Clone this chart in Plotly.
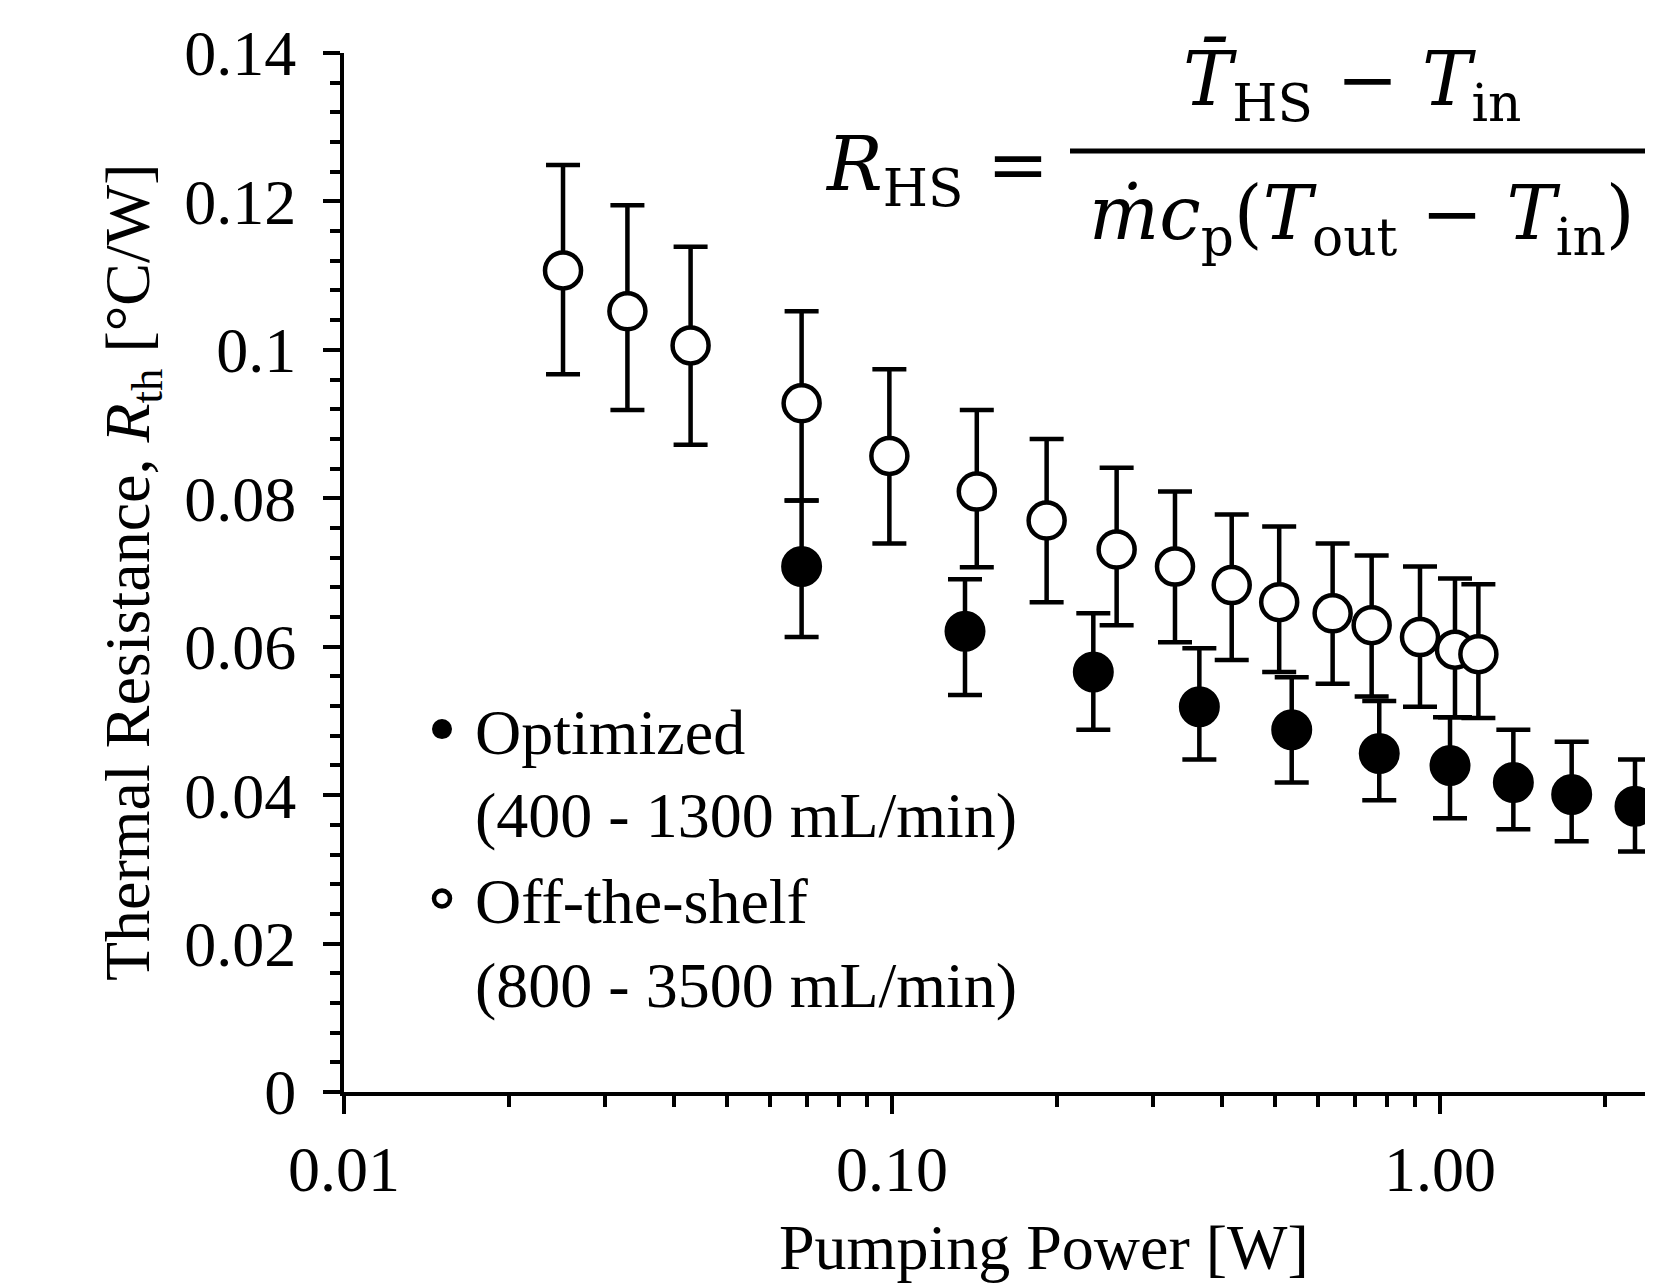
import plotly.graph_objects as go

# ---------------- data ----------------
opt_power = [0.0684, 0.1359, 0.2330, 0.3638, 0.5363, 0.7747, 1.043, 1.361, 1.739, 2.269]
opt_rth = [0.0708, 0.0621, 0.0566, 0.0519, 0.0488, 0.0456, 0.0440, 0.0417, 0.0401, 0.0385]
opt_upper = [0.0797, 0.0691, 0.0645, 0.0598, 0.0559, 0.0527, 0.0505, 0.0488, 0.0472, 0.0448]
opt_lower = [0.0613, 0.0535, 0.0488, 0.0448, 0.0417, 0.0393, 0.0369, 0.0354, 0.0338, 0.0324]

ots_power = [0.0251, 0.0329, 0.0429, 0.0684, 0.0989, 0.1428, 0.1915, 0.2570, 0.3284,
             0.4168, 0.5088, 0.6369, 0.7504, 0.9194, 1.065, 1.175]
ots_rth = [0.1107, 0.1052, 0.1006, 0.0928, 0.0857, 0.0809, 0.0770, 0.0731, 0.0708,
           0.0683, 0.0660, 0.0645, 0.0629, 0.0613, 0.0596, 0.0590]
ots_upper = [0.1249, 0.1195, 0.1139, 0.1052, 0.0974, 0.0919, 0.0880, 0.0841, 0.0809,
             0.0778, 0.0762, 0.0739, 0.0723, 0.0708, 0.0692, 0.0684]
ots_lower = [0.0967, 0.0919, 0.0872, 0.0797, 0.0739, 0.0707, 0.0660, 0.0629, 0.0606,
             0.0582, 0.0566, 0.0550, 0.0533, 0.0519, 0.0505, 0.0504]

x_tick_vals = [0.01, 0.1, 1]
x_tick_text = ["0.01", "0.10", "1.00"]
x_minor_vals = [0.02, 0.03, 0.04, 0.05, 0.06, 0.07, 0.08, 0.09,
                0.2, 0.3, 0.4, 0.5, 0.6, 0.7, 0.8, 0.9, 2]
y_tick_vals = [0, 0.02, 0.04, 0.06, 0.08, 0.1, 0.12, 0.14]
y_tick_text = ["0", "0.02", "0.04", "0.06", "0.08", "0.1", "0.12", "0.14"]

names = ["Optimized<br>(400 - 1300 mL/min)", "Off-the-shelf<br>(800 - 3500 mL/min)"]

# ---------------- figure ----------------
# the page body has an 8 px margin: the figure starts at (8, 8) in the window
OFF = 8
W, H = 1653 - OFF, 1286 - OFF
AX_L, AX_T, AX_B = 344, 53, 1092          # target window pixels of plot area
L, T = AX_L - OFF, AX_T - OFF
B = H - T - (AX_B - AX_T)
R = 0
SERIF = "Liberation Serif, Times New Roman, serif"
FS = 64

def err(vals, up, lo):
    return ([u - v for u, v in zip(up, vals)], [v - l for v, l in zip(vals, lo)])

fig = go.Figure()

e_up, e_lo = err(opt_rth, opt_upper, opt_lower)
fig.add_trace(go.Scatter(
    x=opt_power, y=opt_rth, mode="markers", name=names[0],
    marker=dict(symbol="circle", size=37, color="black", line=dict(color="black", width=4)),
    error_y=dict(type="data", symmetric=False, array=e_up, arrayminus=e_lo,
                 color="black", thickness=4.5, width=17),
))

e_up, e_lo = err(ots_rth, ots_upper, ots_lower)
fig.add_trace(go.Scatter(
    x=ots_power, y=ots_rth, mode="markers", name=names[1],
    marker=dict(symbol="circle", size=36, color="white", line=dict(color="black", width=4.5)),
    error_y=dict(type="data", symmetric=False, array=e_up, arrayminus=e_lo,
                 color="black", thickness=4.5, width=17),
))

plot_w = W - L - R
ph = H - T - B
decade_px = 548.0
x_hi = -2 + plot_w / decade_px


def px_x(p):
    """window pixel -> paper x"""
    return (p - AX_L) / plot_w


def px_y(p):
    """window pixel -> paper y"""
    return (AX_B - p) / ph


fig.update_layout(
    width=W, height=H,
    margin=dict(l=L, r=R, t=T, b=B, pad=0),
    paper_bgcolor="white", plot_bgcolor="white",
    font=dict(family=SERIF, size=FS, color="black"),
    showlegend=True,
    legend=dict(
        x=px_x(409), y=px_y(681),
        xanchor="left", yanchor="top",
        bgcolor="rgba(0,0,0,0)", borderwidth=0,
        font=dict(family=SERIF, size=FS, color="black"),
        itemsizing="trace", itemwidth=56, valign="top", tracegroupgap=0,
    ),
    xaxis=dict(
        type="log", range=[-2, x_hi],
        tickmode="array", tickvals=x_tick_vals, ticktext=x_tick_text,
        ticks="outside", ticklen=18, tickwidth=4, tickcolor="black",
        showline=True, linewidth=4, linecolor="black",
        showgrid=False, zeroline=False, mirror=False,
        ticklabelstandoff=0,
        tickfont=dict(family=SERIF, size=FS, color="black"),
        minor=dict(tickmode="array", tickvals=x_minor_vals, ticks="outside",
                   ticklen=11, tickwidth=4, tickcolor="black", showgrid=False),
    ),
    yaxis=dict(
        range=[0, 0.14],
        tickmode="array", tickvals=y_tick_vals, ticktext=y_tick_text,
        ticks="outside", ticklen=17, tickwidth=4, tickcolor="black",
        showline=True, linewidth=4, linecolor="black",
        showgrid=False, zeroline=False, mirror=False,
        ticklabelstandoff=14,
        tickfont=dict(family=SERIF, size=FS, color="black"),
        minor=dict(dtick=0.004, ticks="outside", ticklen=10, tickwidth=4,
                   tickcolor="black", showgrid=False),
    ),
)

# axis titles
fig.add_annotation(
    text="Thermal Resistance, <i>R</i><sub>th</sub> [°C/W]",
    xref="paper", yref="paper", x=px_x(132), y=px_y(572),
    xanchor="center", yanchor="middle", textangle=-90, showarrow=False,
    font=dict(family=SERIF, size=FS, color="black"),
)
fig.add_annotation(
    text="Pumping Power [W]",
    xref="paper", yref="paper", x=px_x(1044), y=px_y(1247),
    xanchor="center", yanchor="middle", showarrow=False,
    font=dict(family=SERIF, size=FS, color="black"),
)

# formula
MF = "DejaVu Serif, serif"
MS = 74
fig.add_annotation(
    text="<i>R</i><sub>HS</sub> =",
    xref="paper", yref="paper", x=px_x(937), y=px_y(169),
    xanchor="center", yanchor="middle", showarrow=False,
    font=dict(family=MF, size=MS, color="black"),
)
fig.add_annotation(
    text="<i>T\u0304</i><sub>HS</sub> \u2212 <i>T</i><sub>in</sub>",
    xref="paper", yref="paper", x=px_x(1352), y=px_y(84),
    xanchor="center", yanchor="middle", showarrow=False,
    font=dict(family=MF, size=MS, color="black"),
)
fig.add_annotation(
    text="<i>\u1e41c</i><sub>p</sub>(<i>T</i><sub>out</sub> \u2212 <i>T</i><sub>in</sub>)",
    xref="paper", yref="paper", x=px_x(1362), y=px_y(219),
    xanchor="center", yanchor="middle", showarrow=False,
    font=dict(family=MF, size=MS, color="black"),
)
fig.add_shape(
    type="line", xref="paper", yref="paper",
    x0=px_x(1070), x1=px_x(1700), y0=px_y(151), y1=px_y(151),
    line=dict(color="black", width=5),
)

fig.write_html("out.html")
